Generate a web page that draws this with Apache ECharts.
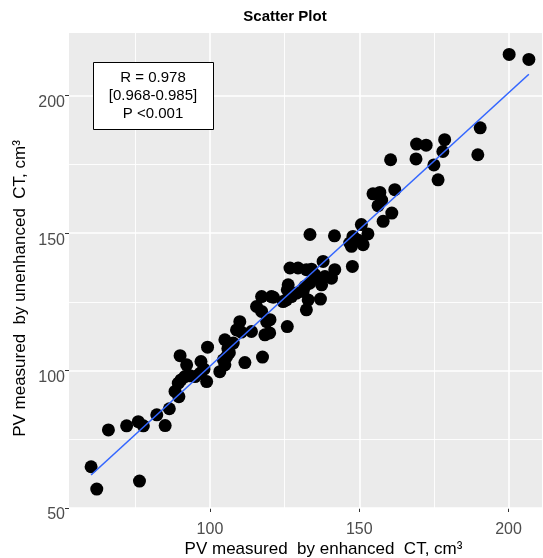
<!DOCTYPE html>
<html>
<head>
<meta charset="utf-8">
<script src="https://cdn.jsdelivr.net/npm/echarts@6/dist/echarts.min.js"></script>
<style>
  html, body { margin: 0; padding: 0; background: #fff; }
  #chart { width: 543px; height: 558px; }
</style>
</head>
<body>
<div id="chart"></div>
<script>
// PV measured by enhanced CT (x) and by unenhanced CT (y), cm3
const enhanced = [
  60.2, 62.1, 76.4, 66.0, 72.1, 76.0, 77.7, 82.2, 85.0, 86.4,
  88.3, 89.6, 90.3, 89.4, 90.0, 92.2, 91.6, 93.3, 95.0, 97.0,
  98.9, 99.2, 103.3, 104.5, 105.0, 105.6, 106.5, 105.0, 111.7, 117.6,
  107.8, 108.9, 110.0, 110.5, 113.9, 119.0, 118.4, 115.6, 117.3, 120.6,
  117.3, 121.2, 124.5, 125.9, 126.2, 125.9, 125.6, 129.0, 131.8, 132.3,
  126.8, 129.5, 132.3, 134.0, 137.9, 141.8, 147.7, 138.5, 140.7, 136.2,
  137.4, 135.1, 133.4, 131.2, 127.3, 132.9, 137.0, 133.5, 141.7, 146.8,
  147.4, 150.7, 152.9, 151.3, 149.5, 158.0, 154.6, 156.9, 161.9, 156.3,
  157.5, 160.9, 160.5, 169.2, 172.4, 169.0, 178.6, 178.0, 175.0, 176.4,
  190.5, 189.7, 200.2, 206.8, 120.1, 120.0, 96.7, 147.9, 106.0, 98.0
];
const unenhanced = [
  65.0, 56.9, 59.8, 78.4, 79.9, 81.4, 79.9, 83.9, 80.0, 86.1,
  92.4, 90.5, 96.6, 95.4, 105.4, 102.1, 97.8, 98.1, 97.8, 103.3,
  96.0, 108.5, 99.6, 103.9, 102.1, 105.1, 106.5, 111.2, 102.9, 104.9,
  110.0, 114.8, 117.8, 114.0, 114.2, 117.8, 113.0, 123.3, 126.9, 126.9,
  121.5, 126.7, 125.1, 116.0, 131.2, 129.4, 125.7, 128.2, 130.6, 122.1,
  137.3, 137.3, 136.7, 136.9, 139.7, 136.7, 137.9, 134.2, 133.6, 133.6,
  131.2, 134.9, 131.8, 128.8, 126.9, 125.7, 126.0, 149.5, 149.0, 146.4,
  145.2, 153.1, 149.7, 145.8, 147.5, 154.3, 164.3, 164.8, 165.8, 160.0,
  162.0, 157.3, 176.7, 182.4, 182.0, 177.0, 184.0, 179.7, 174.8, 169.4,
  188.3, 178.5, 215.0, 213.2, 118.5, 113.7, 99.0, 148.8, 108.0, 100.5
];
// fitted regression line end points
const fitX = [60.2, 206.8];
const fitY = [62.0, 207.8];

const xTicks = [100, 150, 200];
const yTicks = [50, 100, 150, 200];
const xMinor = [75, 125, 175];
const yMinor = [75, 125, 175];

const points = enhanced.map((v, i) => [v, unenhanced[i]]);
const fitLine = fitX.map((v, i) => [v, fitY[i]]);

const gridLines = [];
xTicks.forEach(v => gridLines.push({ xAxis: v, lineStyle: { width: 1.6 } }));
yTicks.forEach(v => gridLines.push({ yAxis: v, lineStyle: { width: 1.6 } }));
xMinor.forEach(v => gridLines.push({ xAxis: v, lineStyle: { width: 0.9 } }));
yMinor.forEach(v => gridLines.push({ yAxis: v, lineStyle: { width: 0.9 } }));

const chart = echarts.init(document.getElementById('chart'));

const font = 'Liberation Sans, Arial, sans-serif';
const labelStyle = { color: '#4D4D4D', fontSize: 16, fontFamily: font };

chart.setOption({
  animation: false,
  grid: {
    left: 69, right: 1, top: 33, bottom: 50,
    outerBoundsMode: 'none',
    show: true, backgroundColor: '#EBEBEB', borderWidth: 0
  },
  xAxis: {
    type: 'value',
    min: 52.8, max: 211.2,
    name: 'PV measured  by enhanced  CT, cm\u00B3',
    nameLocation: 'middle',
    nameGap: 33,
    nameMoveOverlap: false,
    nameTextStyle: { color: '#000', fontSize: 17, fontFamily: font, padding: [0, 0, 0, 36] },
    axisLine: { show: false },
    axisTick: { show: true, length: 4, customValues: xTicks, lineStyle: { color: '#333' } },
    axisLabel: Object.assign({ customValues: xTicks, margin: 14 }, labelStyle),
    splitLine: { show: false }
  },
  yAxis: {
    type: 'value',
    min: 50, max: 222.8,
    name: 'PV measured  by unenhanced  CT, cm\u00B3',
    nameLocation: 'middle',
    nameGap: 40,
    nameMoveOverlap: false,
    nameTextStyle: { color: '#000', fontSize: 17, fontFamily: font, padding: [0, 36, 0, 0] },
    axisLine: { show: false },
    axisTick: { show: true, length: 4, customValues: yTicks, lineStyle: { color: '#333' } },
    axisLabel: Object.assign({ customValues: yTicks, margin: 4, verticalAlign: 'top', lineHeight: 14 }, labelStyle),
    splitLine: { show: false }
  },
  graphic: [
    {
      type: 'text', x: 285, y: 9,
      style: {
        text: 'Scatter Plot', textAlign: 'center',
        font: 'bold 15px Liberation Sans, Arial, sans-serif', fill: '#000'
      }
    },
    {
      type: 'rect', left: 93, top: 62, z: 10,
      shape: { width: 120, height: 67 },
      style: { fill: '#fff', stroke: '#000', lineWidth: 1 }
    },
    {
      type: 'text', z: 11,
      x: 153, y: 69,
      style: {
        text: 'R = 0.978\n[0.968-0.985]\nP <0.001',
        textAlign: 'center', lineHeight: 18,
        font: '15px Liberation Sans, Arial, sans-serif', fill: '#000'
      }
    }
  ],
  series: [
    {
      type: 'line', data: [], z: 1, silent: true,
      markLine: {
        z: 1, silent: true, symbol: 'none', label: { show: false },
        lineStyle: { color: '#FFFFFF', type: 'solid' },
        data: gridLines
      }
    },
    {
      type: 'scatter', data: points, z: 3,
      symbol: 'circle', symbolSize: 13,
      itemStyle: { color: '#000', opacity: 1 }
    },
    {
      type: 'line', data: fitLine, z: 4,
      symbol: 'none', silent: true,
      lineStyle: { color: '#3366FF', width: 1.6 }
    }
  ]
});
</script>
</body>
</html>
